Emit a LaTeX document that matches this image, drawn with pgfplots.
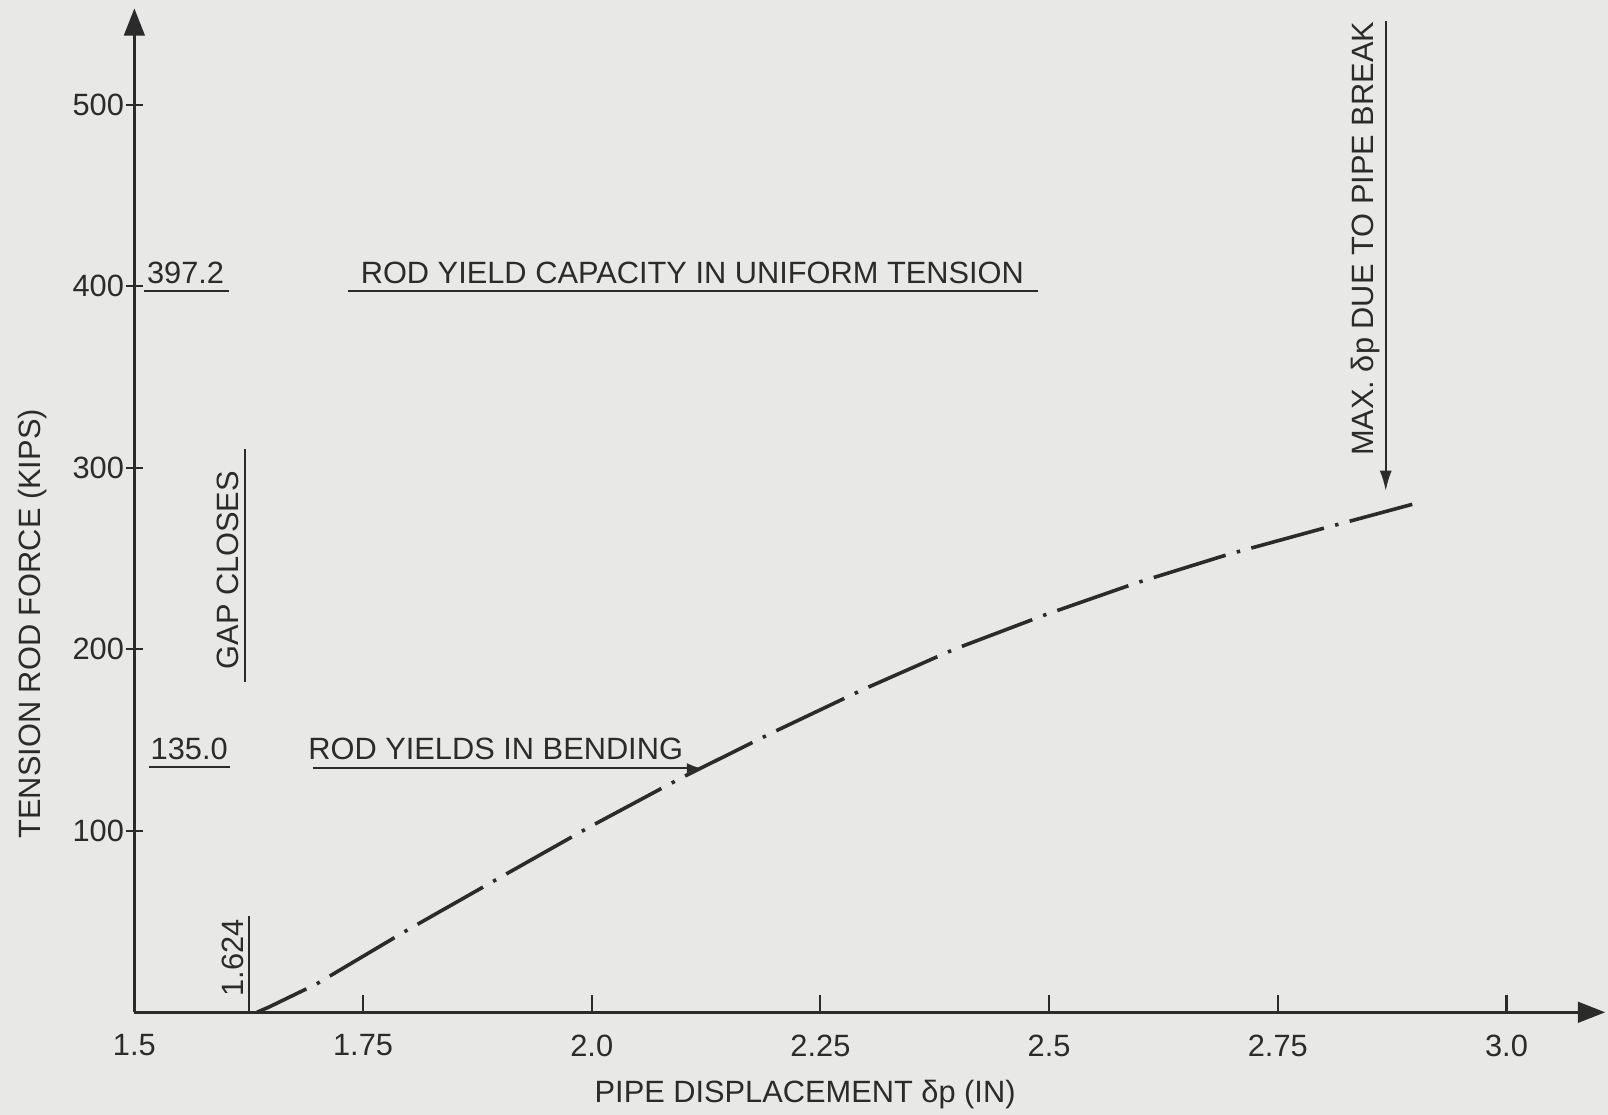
\documentclass[border=0pt]{standalone}
\usepackage{pgfplots}
\pgfplotsset{compat=1.18}
\usepackage{fontspec}
\setmainfont{Liberation Sans}
\usetikzlibrary{arrows.meta,backgrounds}
\definecolor{ink}{HTML}{2B2B2B}
\definecolor{paper}{HTML}{E8E8E6}

\pgfplotstableread{
x y
1.634 0
1.6476 3.0
1.6987 15.5
1.797 44.9
1.896 73.2
1.998 102.2
2.097 128.9
2.196 153.7
2.297 177.9
2.396 199.9
2.497 219.2
2.596 236.6
2.697 252.4
2.797 266.2
2.897 279.8
}\curvedata

\begin{document}
\begin{tikzpicture}[font=\fontsize{9}{11}\selectfont, every node/.style={text=ink}]
\begin{axis}[
  scale only axis, width=430pt, height=293.5pt,
  xmin=1.5, xmax=3.108, ymin=0, ymax=553,
  axis lines=left,
  axis line style={ink, line width=0.9pt, -{Triangle[length=8pt,width=6pt]}},
  xtick={1.5,1.75,2.0,2.25,2.5,2.75,3.0},
  xticklabels={1.5,1.75,2.0,2.25,2.5,2.75,3.0},
  ytick={100,200,300,400,500},
  yticklabels={100,200,300,400,500},
  tick style={ink, line width=0.6pt},
  major tick length=5pt,
  xtick align=inside, ytick align=center,
  xticklabel style={yshift=-3pt},
  yticklabel style={xshift=3pt},
  clip=false,
  ylabel={TENSION ROD FORCE (KIPS)},
  ylabel style={at={(axis description cs:-0.069,0.387)}, anchor=center, inner sep=0pt},
  xlabel={PIPE DISPLACEMENT δp (IN)},
  xlabel style={at={(axis description cs:0.456,-0.082)}, anchor=center, inner sep=0pt},
]
\addplot[ink, line width=1.05pt, dash pattern=on 22pt off 3.4pt on 1pt off 3.4pt, dash phase=6pt] table[x=x,y=y] {\curvedata};

% 397.2 level
\node[anchor=south, inner sep=1.5pt] at (axis cs:1.556,398) {397.2};
\draw[ink, line width=0.7pt] (axis cs:1.511,397.2) -- (axis cs:1.603,397.2);
\node[anchor=south, inner sep=1.5pt] at (axis cs:2.110,398) {ROD YIELD CAPACITY IN UNIFORM TENSION};
\draw[ink, line width=0.7pt] (axis cs:1.734,397.2) -- (axis cs:2.488,397.2);

% 135.0 level
\node[anchor=south, inner sep=1.5pt] at (axis cs:1.560,136) {135.0};
\draw[ink, line width=0.7pt] (axis cs:1.516,135) -- (axis cs:1.604,135);
\node[anchor=south, inner sep=1.5pt] at (axis cs:1.895,136) {ROD YIELDS IN BENDING};
\draw[ink, line width=0.7pt, -{Latex[length=4pt,width=3pt]}] (axis cs:1.695,134.5) -- (axis cs:2.119,134.5);

% gap closes
\node[rotate=90, anchor=south, inner sep=1.5pt] at (axis cs:1.621,243.5) {GAP CLOSES};
\draw[ink, line width=0.7pt] (axis cs:1.621,182) -- (axis cs:1.621,310);

% 1.624
\node[rotate=90, anchor=south, inner sep=1.5pt] at (axis cs:1.6256,30) {1.624};
\draw[ink, line width=0.7pt] (axis cs:1.6256,0) -- (axis cs:1.6256,53);

% max displacement
\node[rotate=90, anchor=south, inner sep=1.5pt] at (axis cs:2.868,426) {MAX. δp DUE TO PIPE BREAK};
\draw[ink, line width=0.7pt, -{Latex[length=6pt,width=3.5pt]}] (axis cs:2.868,546) -- (axis cs:2.868,287);

\coordinate (bl) at (axis cs:1.3531,-56.5);
\coordinate (tr) at (axis cs:3.1110,557.6);
\end{axis}
\begin{scope}[on background layer]
\fill[paper] (bl) rectangle (tr);
\end{scope}
\end{tikzpicture}
\end{document}
